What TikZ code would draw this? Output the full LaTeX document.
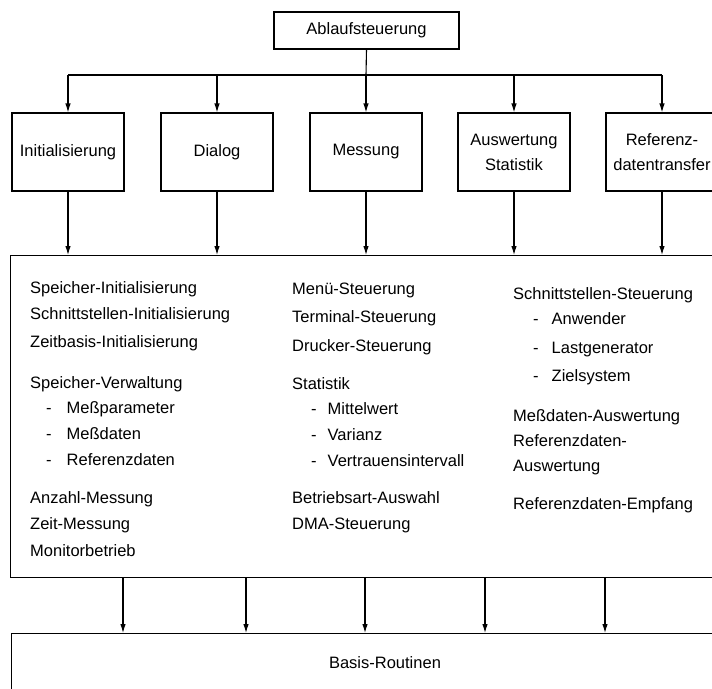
\documentclass[tikz,border=0pt]{standalone}
\usepackage{fontspec}
\setmainfont{Liberation Sans}
\usetikzlibrary{arrows.meta}
\begin{document}
\begin{tikzpicture}[x=1pt,y=-1pt,
  every node/.style={font=\fontsize{16.5}{25}\selectfont},
  frame/.style={draw,line width=1.1pt,inner sep=0pt},
  modbox/.style={frame,minimum width=112pt,minimum height=78pt,align=center},
  item/.style={anchor=base west,inner sep=0pt},
  wire/.style={line width=1.1pt},
  arr/.style={line width=1.1pt,-{Latex[length=9pt,width=5.5pt]}}]
\useasboundingbox (0,0) rectangle (712,688);
\clip (0,0) rectangle (712,688);

% top level control
\node[frame,minimum width=185pt,minimum height=37pt] (ablauf) at (366.5,30.5) {Ablaufsteuerung};

% second level modules
\node[modbox] (init) at (68,152)  {Initialisierung};
\node[modbox] (dial) at (217,152) {Dialog};
\node[modbox] (mess) at (366,152) {Messung};
\node[modbox] (ausw) at (514,152) {Auswertung\\Statistik};
\node[modbox] (refz) at (662,152) {Referenz-\\datentransfer};

% distribution bus
\coordinate (bus) at (366,75);
\draw[wire] (ablauf.south) -- (bus);
\draw[wire] (init |- bus) -- (refz |- bus);
\foreach \m in {init,dial,mess,ausw,refz}
  \draw[arr] (\m |- bus) -- (\m.north);

% function block
\node[frame,minimum width=710pt,minimum height=322pt,anchor=north west] (main) at (10,255) {};
\foreach \m in {init,dial,mess,ausw,refz}
  \draw[arr] (\m.south) -- (\m.south |- main.north);

% first column
\node[item] (a1)  at (30,293) {Speicher-Initialisierung};
\node[item] (a2)  at (30,319) {Schnittstellen-Initialisierung};
\node[item] (a3)  at (30,347) {Zeitbasis-Initialisierung};
\node[item] (a4)  at (30,388) {Speicher-Verwaltung};
\node[item] (a5)  at (46,413) {-\hspace{15pt}Meßparameter};
\node[item] (a6)  at (46,439) {-\hspace{15pt}Meßdaten};
\node[item] (a7)  at (46,465) {-\hspace{15pt}Referenzdaten};
\node[item] (a8)  at (30,503) {Anzahl-Messung};
\node[item] (a9)  at (30,529) {Zeit-Messung};
\node[item] (a10) at (30,556) {Monitorbetrieb};

% second column
\node[item] (b1) at (292,294) {Menü-Steuerung};
\node[item] (b2) at (292,322) {Terminal-Steuerung};
\node[item] (b3) at (292,351) {Drucker-Steuerung};
\node[item] (b4) at (292,389) {Statistik};
\node[item] (b5) at (311,414) {-\hspace{11pt}Mittelwert};
\node[item] (b6) at (311,440) {-\hspace{11pt}Varianz};
\node[item] (b7) at (311,466) {-\hspace{11pt}Vertrauensintervall};
\node[item] (b8) at (292,503) {Betriebsart-Auswahl};
\node[item] (b9) at (292,529) {DMA-Steuerung};

% third column
\node[item] (c1) at (513,299) {Schnittstellen-Steuerung};
\node[item] (c2) at (533,324) {-\hspace{13pt}Anwender};
\node[item] (c3) at (533,353) {-\hspace{13pt}Lastgenerator};
\node[item] (c4) at (533,381) {-\hspace{13pt}Zielsystem};
\node[item] (c5) at (513,421) {Meßdaten-Auswertung};
\node[item] (c6) at (513,446) {Referenzdaten-};
\node[item] (c7) at (513,471) {Auswertung};
\node[item] (c8) at (513,509) {Referenzdaten-Empfang};

% base routines
\node[frame,minimum width=709pt,minimum height=60pt,anchor=north west] (basis) at (11,633) {};
\node (btxt) at (385,663) {Basis-Routinen};
\foreach \x [count=\i] in {123,246,365,485,605} {
  \coordinate (d\i) at (\x,577);
  \draw[arr] (d\i) -- (d\i |- basis.north);
}
\end{tikzpicture}
\end{document}
